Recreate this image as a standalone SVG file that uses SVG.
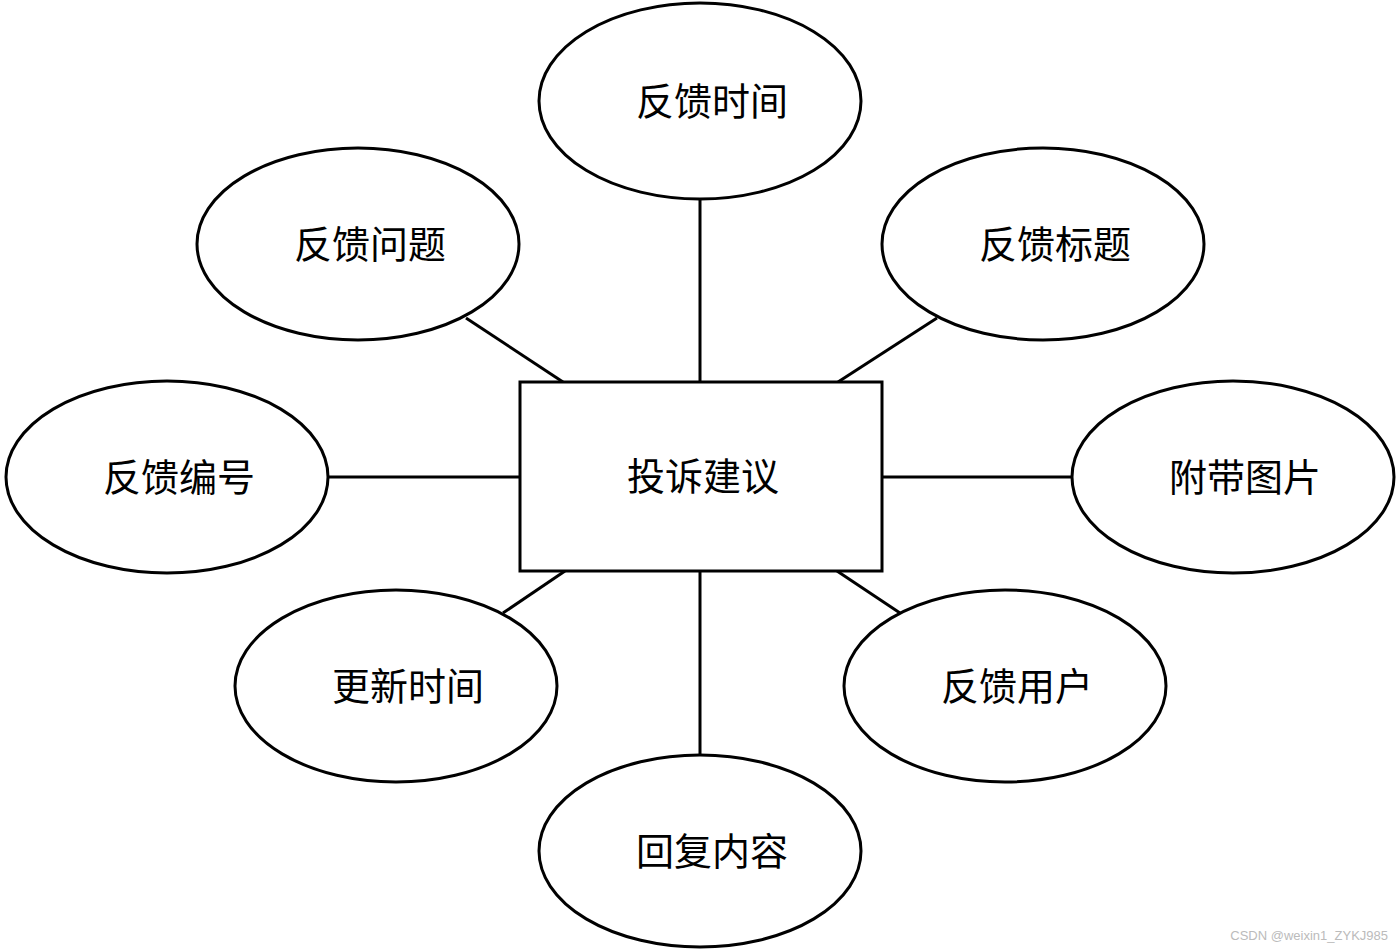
<svg xmlns="http://www.w3.org/2000/svg" width="1400" height="951" viewBox="0 0 1400 951">
<style>
.n{fill:#fff;stroke:#000;stroke-width:3}
.t{font-family:"Noto Sans CJK SC",sans-serif;font-size:38px;text-anchor:middle;fill:#000}
.c line{stroke:#000;stroke-width:3}
</style>
<rect width="1400" height="951" fill="#fff"/>
<g class="c">
<line x1="700" y1="199" x2="700" y2="382"/>
<line x1="466" y1="318" x2="563" y2="382"/>
<line x1="937" y1="318" x2="838" y2="382"/>
<line x1="328" y1="477" x2="520" y2="477"/>
<line x1="882" y1="477" x2="1073" y2="477"/>
<line x1="565" y1="571" x2="503" y2="613"/>
<line x1="837" y1="571" x2="900" y2="613"/>
<line x1="700" y1="571" x2="700" y2="755"/>
</g>
<g id="center"><rect class="n" x="520" y="382" width="362" height="189"/><text class="t" x="703" y="490">投诉建议</text></g>
<g id="n1"><ellipse class="n" cx="700" cy="101" rx="161" ry="98"/><text class="t" x="712" y="115">反馈时间</text></g>
<g id="n2"><ellipse class="n" cx="358" cy="244" rx="161" ry="96"/><text class="t" x="370" y="258">反馈问题</text></g>
<g id="n3"><ellipse class="n" cx="1043" cy="244" rx="161" ry="96"/><text class="t" x="1055" y="258">反馈标题</text></g>
<g id="n4"><ellipse class="n" cx="167" cy="477" rx="161" ry="96"/><text class="t" x="179" y="491">反馈编号</text></g>
<g id="n5"><ellipse class="n" cx="1233" cy="477" rx="161" ry="96"/><text class="t" x="1245" y="491">附带图片</text></g>
<g id="n6"><ellipse class="n" cx="396" cy="686" rx="161" ry="96"/><text class="t" x="408" y="700">更新时间</text></g>
<g id="n7"><ellipse class="n" cx="1005" cy="686" rx="161" ry="96"/><text class="t" x="1017" y="700">反馈用户</text></g>
<g id="n8"><ellipse class="n" cx="700" cy="851" rx="161" ry="96"/><text class="t" x="712" y="865">回复内容</text></g>
<text x="1388" y="940" font-family="Liberation Sans,sans-serif" font-size="13" fill="#bbb" text-anchor="end">CSDN @weixin1_ZYKJ985</text>
</svg>
